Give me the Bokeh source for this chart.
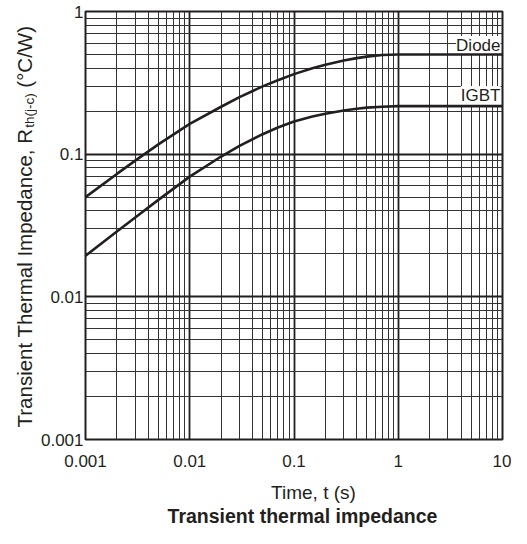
import math
from bokeh.plotting import figure
from bokeh.models import FixedTicker, PrintfTickFormatter, Label, Range1d
from bokeh.layouts import row, column
from bokeh.embed import file_html
from bokeh.resources import INLINE

# ---- data ----
t_s = [0.001, 0.002, 0.003, 0.005, 0.01, 0.02, 0.03, 0.05, 0.07, 0.1, 0.15, 0.2, 0.3, 0.4, 0.5, 0.7, 1.0, 10.0]
diode_zth = [0.050, 0.0727, 0.0901, 0.117, 0.163, 0.215, 0.251, 0.2985, 0.330, 0.364, 0.400, 0.424, 0.453, 0.471, 0.483, 0.495, 0.500, 0.500]
igbt_zth = [0.0194, 0.0287, 0.0360, 0.0478, 0.0696, 0.0963, 0.1142, 0.138, 0.1537, 0.1696, 0.1838, 0.1920, 0.2024, 0.2083, 0.2120, 0.2150, 0.217, 0.217]

x_major = [0.001, 0.01, 0.1, 1, 10]
y_major = [0.001, 0.01, 0.1, 1]
x_minor = [m * 10.0 ** e for e in range(-3, 1) for m in range(2, 10)]
y_minor = [m * 10.0 ** e for e in range(-3, 0) for m in range(2, 10)]

y_label_parts = ["Transient Thermal Impedance, R", "th(j-c)", "(°C/W)"]
x_label = "Time, t (s)"
caption = "Transient thermal impedance"

INK = "#231f20"
FONT = "Liberation Sans"

TOP_H = 479
YL_W = 37
FRAME_TOP = 11
FRAME_BOTTOM_BORDER = 40

# ---------------- main chart ----------------
p = figure(width=511 - YL_W, height=TOP_H, x_axis_type="log", y_axis_type="log",
           x_range=(0.001, 10), y_range=(0.001, 1),
           output_backend="svg", toolbar_location=None,
           min_border_left=85 - YL_W, min_border_right=9,
           min_border_top=FRAME_TOP, min_border_bottom=FRAME_BOTTOM_BORDER)
p.background_fill_color = "white"
p.border_fill_color = "white"
p.outline_line_color = INK
p.outline_line_width = 2

xt = FixedTicker(ticks=x_major, minor_ticks=x_minor)
yt = FixedTicker(ticks=y_major, minor_ticks=y_minor)
p.xaxis.ticker = xt
p.yaxis.ticker = yt
p.xgrid.ticker = xt
p.ygrid.ticker = yt

for ax in (p.xaxis[0], p.yaxis[0]):
    ax.formatter = PrintfTickFormatter(format="%g")
    ax.axis_line_color = None
    ax.major_tick_line_color = None
    ax.minor_tick_line_color = None
    ax.major_tick_out = 0
    ax.major_tick_in = 0
    ax.minor_tick_out = 0
    ax.minor_tick_in = 0
    ax.major_label_text_font = FONT
    ax.major_label_text_font_size = "17px"
    ax.major_label_text_color = INK
p.xaxis.major_label_standoff = 15
p.yaxis.major_label_standoff = 2
p.yaxis.major_label_text_baseline = "hanging"

for g in (p.xgrid[0], p.ygrid[0]):
    g.grid_line_color = INK
    g.grid_line_width = 1.8
    g.grid_line_alpha = 1.0
    g.minor_grid_line_color = "#333333"
    g.minor_grid_line_width = 1
    g.minor_grid_line_alpha = 1.0

r1 = p.line(t_s, diode_zth, line_color=INK, line_width=2.6)
r2 = p.line(t_s, igbt_zth, line_color=INK, line_width=2.6)
r1.level = "overlay"
r2.level = "overlay"

# curve labels (white boxes hide the grid behind the text)
for txt, yy in (("Diode", 394), ("IGBT", 344)):
    p.add_layout(Label(x=10, y=yy, x_units="data", y_units="screen", x_offset=-2, text=txt,
                       text_align="right", text_baseline="middle",
                       text_font=FONT, text_font_size="17px", text_color=INK,
                       background_fill_color="white", background_fill_alpha=1.0))

# ---------------- y axis title (with subscript) ----------------
# the row aligns this strip's frame with the chart frame (canvas y 11..439);
# the range is chosen so that data y = TOP_H - canvas y
yl = figure(width=YL_W, height=TOP_H, x_range=Range1d(0, YL_W),
            y_range=Range1d(FRAME_BOTTOM_BORDER, TOP_H - FRAME_TOP),
            output_backend="svg", toolbar_location=None, min_border=0,
            x_axis_location=None, y_axis_location=None)
yl.outline_line_color = None
yl.grid.visible = False

main_fs = 20.5
sub_fs = 13.5
w1 = 14.616 * main_fs
w2 = 2.555 * sub_fs
gap = 0.278 * main_fs        # width of a space before "(°C/W)"
start = TOP_H - 427          # text starts at canvas y = 427
mid_main = 31 - 0.35 * main_fs
mid_sub = 34 - 0.35 * sub_fs
yl.add_layout(Label(x=mid_main, y=start, angle=math.pi / 2, text=y_label_parts[0],
                    text_align="left", text_baseline="middle",
                    text_font=FONT, text_font_size=f"{main_fs}px", text_color=INK))
yl.add_layout(Label(x=mid_sub, y=start + w1, angle=math.pi / 2, text=y_label_parts[1],
                    text_align="left", text_baseline="middle",
                    text_font=FONT, text_font_size=f"{sub_fs}px", text_color=INK))
yl.add_layout(Label(x=mid_main, y=start + w1 + w2 + gap, angle=math.pi / 2, text=y_label_parts[2],
                    text_align="left", text_baseline="middle",
                    text_font=FONT, text_font_size=f"{main_fs}px", text_color=INK))

# ---------------- x axis title and caption ----------------
BOT_H = 528 - TOP_H
bot = figure(width=511, height=BOT_H, x_range=Range1d(0, 511), y_range=Range1d(0, BOT_H),
             output_backend="svg", toolbar_location=None, min_border=0,
             x_axis_location=None, y_axis_location=None)
bot.outline_line_color = None
bot.grid.visible = False
bot.add_layout(Label(x=313, y=TOP_H + BOT_H - (499 - 0.35 * 19), text=x_label,
                     text_align="center", text_baseline="middle",
                     text_font=FONT, text_font_size="19px", text_color=INK))
bot.add_layout(Label(x=302, y=TOP_H + BOT_H - (522 - 0.35 * 19.5), text=caption,
                     text_align="center", text_baseline="middle", text_font_style="bold",
                     text_font=FONT, text_font_size="19.5px", text_color=INK))

layout = column(row(yl, p, spacing=0), bot, spacing=0)
open("out.html", "w").write(file_html(layout, INLINE))
